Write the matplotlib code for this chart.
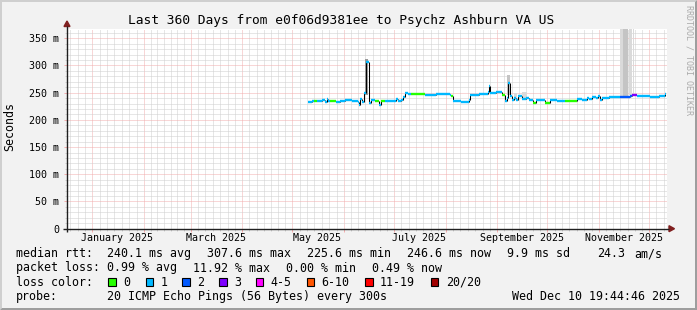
"""SmokePing style latency graph (rrdtool look) redrawn with matplotlib."""

from datetime import datetime

import matplotlib

matplotlib.use("Agg")
import matplotlib.dates as mdates
import matplotlib.pyplot as plt
import matplotlib.transforms as mtransforms
import numpy as np
import pandas as pd
from matplotlib.patches import Polygon, Rectangle
from matplotlib.ticker import FixedLocator, FuncFormatter

TITLE = "Last 360 Days from e0f06d9381ee to Psychz Ashburn VA US"
STAMP = "Wed Dec 10 19:44:46 2025"
PROBE = "20 ICMP Echo Pings (56 Bytes) every 300s"

# median rtt: day offset from 2025-01-01, value in ms, loss bin
rtt_day = [
    129.4, 131.8, 133.0, 134.8, 137.8, 139.6, 140.8, 141.6, 142.6, 146.2,
    148.6, 151.6, 155.8, 159.4, 160.0, 160.6, 161.8, 163.0, 164.2, 166.0,
    167.2, 169.6, 172.0, 173.2, 175.6, 181.6, 182.2, 183.4, 185.2, 186.4,
    187.6, 189.4, 191.2, 199.6, 206.0, 212.8, 214.6, 215.2, 216.4, 221.0,
    226.0, 226.6, 232.0, 237.4, 238.0, 238.6, 242.0, 245.8, 247.6, 248.8,
    249.4, 250.6, 251.8, 253.0, 254.2, 255.4, 257.8, 260.2, 262.0, 264.4,
    266.2, 271.6, 274.6, 279.0, 283.6, 290.8, 294.0, 296.8, 298.0, 299.8,
    302.0, 303.2, 304.6, 305.8, 308.0, 310.0, 313.0, 316.6, 322.6, 323.8,
    326.8, 334.6, 340.0, 343.6,
]
rtt_median_ms = [
    233, 234, 235, 234, 236, 232, 238, 234, 234, 233,
    235, 236, 235, 233, 227, 238, 233, 249, 307, 231,
    236, 234, 227, 234, 234, 235, 239, 234, 236, 242,
    249, 247, 247, 246, 247, 248, 246, 244, 234, 233,
    236, 246, 247, 252, 263, 250, 251, 246, 234, 240,
    268, 244, 236, 241, 237, 243, 238, 240, 237, 231,
    237, 231, 236, 235, 234, 238, 237, 241, 238, 242,
    240, 243, 236, 241, 240, 242, 242, 242, 244, 246,
    243, 242, 243, 248,
]
rtt_loss_bin = [
    1, 1, 0, 1, 1, 1, 1, 1, 0, 1,
    1, 1, 1, 1, 1, 1, 1, 1, 1, 1,
    1, 0, 1, 0, 1, 1, 1, 1, 1, 1,
    1, 1, 0, 1, 1, 1, 1, 0, 1, 1,
    1, 1, 1, 1, 1, 1, 1, 0, 1, 1,
    1, 1, 1, 1, 1, 1, 1, 1, 1, 0,
    1, 0, 1, 1, 0, 1, 1, 1, 1, 1,
    1, 1, 1, 1, 1, 1, 1, 2, 2, 3,
    1, 1, 1, 1,
]
rtt_end_day = 344.0

# smoke (spread of the 20 pings) where it is visible
smoke_start_day = [163.6, 248.8, 253.0, 258.0, 316.6, 318.6, 322.2, 324.6]
smoke_end_day = [165.6, 250.6, 255.0, 261.0, 318.2, 321.6, 323.6, 325.2]
smoke_low_ms = [246, 245, 236, 236, 244, 244, 246, 246]
smoke_high_ms = [312, 283, 250, 252, 368, 368, 368, 368]
smoke_level = [3, 2, 1, 1, 1, 2, 1, 1]

loss_labels = ["0", "1", "2", "3", "4-5", "6-10", "11-19", "20/20"]
loss_colors = ["#26ff00", "#00b8ff", "#0059ff", "#7e00ff",
               "#ff00ff", "#ff5500", "#ff0000", "#a10000"]

y_major_ms = [0, 50, 100, 150, 200, 250, 300, 350]
month_labels = ["January 2025", "March 2025", "May 2025",
                "July 2025", "September 2025", "November 2025"]
month_label_dates = ["2025-01-16", "2025-03-16", "2025-05-16",
                     "2025-07-16", "2025-09-16", "2025-11-16"]

legend_rows = [
    ["median rtt:", "240.1 ms avg", "307.6 ms max", "225.6 ms min",
     "246.6 ms now", "9.9 ms sd", "24.3", "am/s"],
    ["packet loss:", "0.99 % avg", "11.92 % max", "0.00 % min", "0.49 % now"],
]

# rrdtool default colours
BACK = "#F2F2F2"
SHADE_A = "#CFCFCF"
SHADE_B = "#9E9E9E"
GRID = "#CFCFCF"
MGRID = "#F2AEAE"
ARROW = "#801F1F"
AXIS = "#1F1F1F"
SMOKE = {1: "#DADADA", 2: "#C4C4C4", 3: "#9A9A9A"}

W, H = 697, 310
AX_L, AX_R, AX_T, AX_B = 67, 667, 28.7, 228.7

plt.rcParams.update({"font.family": "DejaVu Sans Mono", "text.color": "black"})

fig = plt.figure(figsize=(W / 100, H / 100), dpi=100, facecolor=BACK)
ax = fig.add_axes([AX_L / W, 1 - AX_B / H, (AX_R - AX_L) / W, (AX_B - AX_T) / H])
ax.set_facecolor("white")
for spine in ax.spines.values():
    spine.set_visible(False)

base = mdates.date2num(datetime(2025, 1, 1))
ax.set_xlim(base - 15.18, base + 344.82)
ax.set_ylim(0, 367.6)

# grid: months in red, each month cut in seven in grey, 10 ms / 50 ms rows
month_starts = pd.date_range("2024-12-01", "2026-01-01", freq="MS")
month_nums = mdates.date2num(month_starts.to_pydatetime())
minor_x = []
for a, b in zip(month_nums[:-1], month_nums[1:]):
    minor_x.extend(a + (b - a) * k / 7 for k in range(1, 7))
ax.xaxis.set_major_locator(FixedLocator(month_nums))
ax.xaxis.set_minor_locator(FixedLocator(minor_x))
ax.yaxis.set_major_locator(FixedLocator(y_major_ms))
ax.yaxis.set_minor_locator(FixedLocator(np.arange(0, 370, 10)))
ax.yaxis.set_major_formatter(FuncFormatter(lambda v, _: "0" if v == 0 else f"{v:.0f} m"))
ax.tick_params(axis="x", which="both", labelbottom=False)
ax.tick_params(which="major", direction="out", length=2.2, width=0.72, color=MGRID)
ax.tick_params(which="minor", direction="out", length=1.5, width=0.72, color=GRID)
ax.tick_params(axis="y", which="major", labelsize=7.2, pad=3.4)
ax.grid(True, which="minor", color=GRID, linestyle=(0, (1, 1)), linewidth=0.72)
ax.grid(True, which="major", color=MGRID, linestyle=(0, (1, 1)), linewidth=0.72)
ax.set_axisbelow(True)

# smoke
smoke_x = base + np.array(smoke_start_day)
smoke_w = np.array(smoke_end_day) - np.array(smoke_start_day)
ax.bar(smoke_x, np.array(smoke_high_ms) - np.array(smoke_low_ms), width=smoke_w,
       bottom=smoke_low_ms, align="edge", color=[SMOKE[s] for s in smoke_level],
       linewidth=0, zorder=2)

# median: black risers, loss coloured steps
days = np.array(rtt_day + [rtt_end_day])
med = np.array(rtt_median_ms, dtype=float)
ax.vlines(base + days[1:-1], np.minimum(med[:-1], med[1:]), np.maximum(med[:-1], med[1:]),
          color="black", linewidth=0.75, zorder=3)
ax.hlines(med, base + days[:-1], base + days[1:],
          colors=[loss_colors[b] for b in rtt_loss_bin], linewidth=1.7, zorder=4)

# month labels, centred on the middle of the month
lab_tr = mtransforms.blended_transform_factory(ax.transData, ax.transAxes)
lab_x = mdates.date2num(pd.to_datetime(month_label_dates).to_pydatetime())
for x, text in zip(lab_x, month_labels):
    ax.text(x, -(241.0 - AX_B) / (AX_B - AX_T), text, transform=lab_tr,
            ha="center", va="baseline", fontsize=7.2)

# overlay in pixel units for frame, axes arrows and legend
ov = fig.add_axes([0, 0, 1, 1], zorder=5)
ov.set_xlim(0, W)
ov.set_ylim(H, 0)
ov.axis("off")
ov.patch.set_visible(False)

ov.add_patch(Polygon([(0, H), (0, 0), (W, 0), (W - 2, 2), (2, 2), (2, H - 2)],
                     closed=True, facecolor=SHADE_A, edgecolor="none"))
ov.add_patch(Polygon([(0, H), (W, H), (W, 0), (W - 2, 2), (W - 2, H - 2), (2, H - 2)],
                     closed=True, facecolor=SHADE_B, edgecolor="none"))

ov.plot([63, 669], [AX_B, AX_B], color=AXIS, linewidth=1.0, solid_capstyle="butt")
ov.plot([AX_L, AX_L], [AX_B + 3, 26], color=AXIS, linewidth=1.0, solid_capstyle="butt")
ov.add_patch(Polygon([(669, AX_B - 3), (674.5, AX_B), (669, AX_B + 3)], color=ARROW))
ov.add_patch(Polygon([(AX_L - 3, 26.5), (AX_L, 21), (AX_L + 3, 26.5)], color=ARROW))

ov.text(340.7, 24, TITLE, ha="center", va="baseline", fontsize=9.25)
ov.text(9.5, 126.5, "Seconds", rotation=90, ha="center", va="center", fontsize=8.4)
ov.text(688.5, 60, "RRDTOOL / TOBI OETIKER", rotation=270, ha="center", va="center",
        fontsize=6.0, color="#ABABAB")

LEG = 8.4
row_x = [[16, 107.3, 207.3, 307.3, 406.7, 507.3, 597.3, 634.0],
         [16, 107.3, 193.3, 286.5, 372.5]]
for baseline, xs, row in zip([257.3, 271.5], row_x, legend_rows):
    for x, text in zip(xs, row):
        ov.text(x, baseline, text, ha="left", va="baseline", fontsize=LEG)

ov.text(16, 285.7, "loss color:", ha="left", va="baseline", fontsize=LEG)
box_x = [108.3, 145.7, 182.3, 219.0, 255.7, 306.7, 365.0, 430.7]
for bx, label, colour in zip(box_x, loss_labels, loss_colors):
    ov.add_patch(Rectangle((bx, 278.2), 7.6, 7.6, facecolor=colour,
                           edgecolor="black", linewidth=0.8))
    ov.text(bx + 15, 285.7, label, ha="left", va="baseline", fontsize=LEG)

ov.text(16, 300, "probe:", ha="left", va="baseline", fontsize=LEG)
ov.text(107.3, 300, PROBE, ha="left", va="baseline", fontsize=LEG)
ov.text(680.5, 300, STAMP, ha="right", va="baseline", fontsize=LEG)

fig.savefig("out.png", dpi=100, facecolor=BACK)
